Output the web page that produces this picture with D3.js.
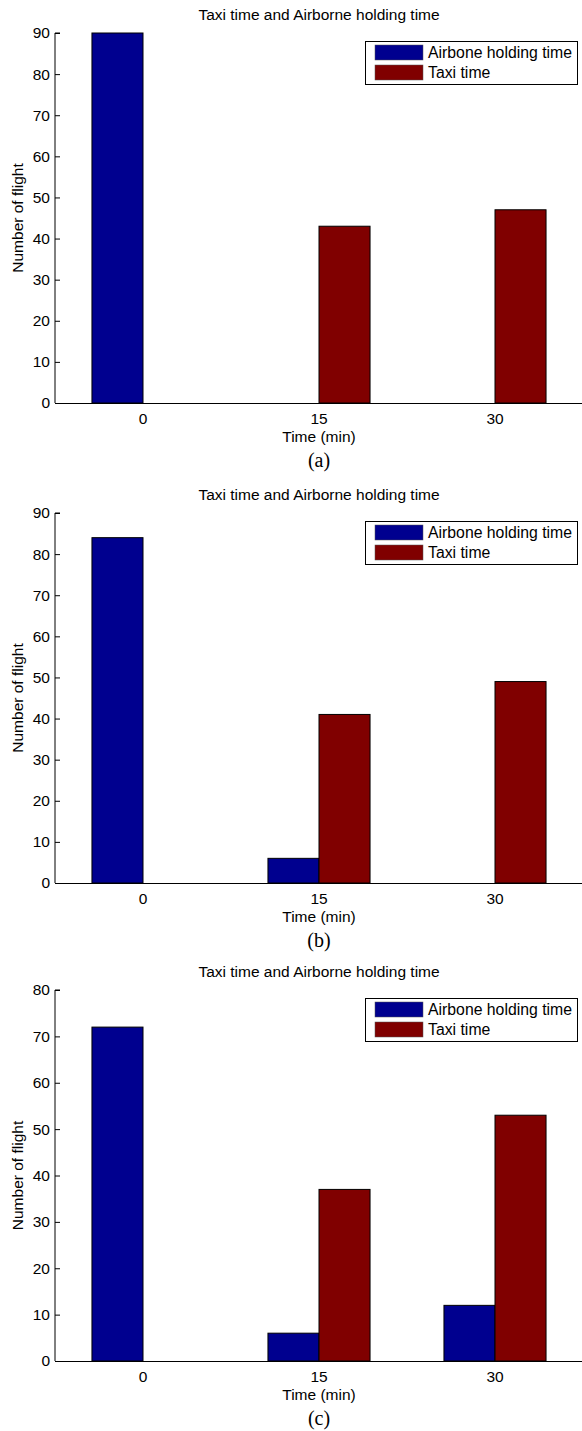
<!DOCTYPE html>
<html>
<head>
<meta charset="utf-8">
<script src="https://cdn.jsdelivr.net/npm/d3@7"></script>
<style>
  html, body { margin: 0; padding: 0; background: #fff; }
  svg { display: block; }
  text { font-family: "Liberation Sans", Arial, Helvetica, sans-serif; fill: #000; }
  .caption { font-family: "Liberation Serif", "Times New Roman", serif; }
</style>
</head>
<body>
<script>
// Time bins on the x axis
const categories = ["0", "15", "30"];
const seriesNames = ["Airbone holding time", "Taxi time"];
const seriesColors = ["#00008f", "#800000"];

// Number of flights per scenario
const airborneA = [90, 0, 0];
const taxiA = [0, 43, 47];
const airborneB = [84, 6, 0];
const taxiB = [0, 41, 49];
const airborneC = [72, 6, 12];
const taxiC = [0, 37, 53];

const yTicksAB = [0, 10, 20, 30, 40, 50, 60, 70, 80, 90];
const yTicksC = [0, 10, 20, 30, 40, 50, 60, 70, 80];

const panels = [
  { top: 33, bottom: 403, yMax: 90, ticks: yTicksAB, series: [airborneA, taxiA], caption: "(a)" },
  { top: 513, bottom: 883, yMax: 90, ticks: yTicksAB, series: [airborneB, taxiB], caption: "(b)" },
  { top: 990, bottom: 1361, yMax: 80, ticks: yTicksC, series: [airborneC, taxiC], caption: "(c)" }
];

const W = 582, H = 1431;
const left = 55, right = 583;
const fs = "15.5px";

const svg = d3.select("body").append("svg")
  .attr("width", W).attr("height", H);

panels.forEach(p => {
  const g = svg.append("g");

  const x = d3.scaleBand().domain(categories).range([left, right]).padding(0);
  const barW = x.bandwidth() * 0.29;
  const x1 = d3.scaleBand().domain(seriesNames).range([-barW, barW]).padding(0);
  const y = d3.scaleLinear().domain([0, p.yMax]).range([p.bottom, p.top]);

  // Title
  g.append("text")
    .attr("x", (left + right) / 2)
    .attr("y", p.top - 13)
    .attr("text-anchor", "middle")
    .style("font-size", fs)
    .text("Taxi time and Airborne holding time");

  // Bars
  seriesNames.forEach((name, si) => {
    g.append("g").selectAll("rect")
      .data(p.series[si].map((v, i) => ({ cat: categories[i], v })))
      .join("rect")
      .filter(d => d.v > 0)
      .attr("x", d => x(d.cat) + x.bandwidth() / 2 + x1(name))
      .attr("y", d => y(d.v))
      .attr("width", x1.bandwidth())
      .attr("height", d => y(0) - y(d.v))
      .attr("fill", seriesColors[si])
      .attr("stroke", "#000")
      .attr("stroke-width", 1);
  });

  // Y axis with inward ticks
  const yAxis = d3.axisRight(y).tickValues(p.ticks).tickSize(5).tickFormat(d3.format("d"));
  const ya = g.append("g").attr("transform", `translate(${left},0)`).call(yAxis);
  ya.select(".domain").attr("d", `M5,${p.top}H0V${p.bottom}`).attr("stroke", "#000");
  ya.selectAll(".tick line").attr("stroke", "#000");
  ya.selectAll(".tick text")
    .attr("x", -5)
    .attr("text-anchor", "end")
    .style("font-size", fs)
    .style("font-family", "'Liberation Sans', Arial, sans-serif");

  // X axis
  const xAxis = d3.axisBottom(x).tickSize(0).tickPadding(0);
  const xa = g.append("g").attr("transform", `translate(0,${p.bottom})`).call(xAxis);
  xa.select(".domain").attr("d", `M${left},0.5H${right + 5}`).attr("stroke", "#000");
  xa.selectAll(".tick text")
    .attr("y", 20.5)
    .attr("dy", 0)
    .style("font-size", fs)
    .style("font-family", "'Liberation Sans', Arial, sans-serif");

  // Axis labels
  g.append("text")
    .attr("x", (left + right) / 2)
    .attr("y", p.bottom + 39)
    .attr("text-anchor", "middle")
    .style("font-size", fs)
    .text("Time (min)");

  g.append("text")
    .attr("transform", `translate(23,${(p.top + p.bottom) / 2}) rotate(-90)`)
    .attr("text-anchor", "middle")
    .style("font-size", fs)
    .text("Number of flight");

  g.append("text")
    .attr("class", "caption")
    .attr("x", (left + right) / 2)
    .attr("y", p.bottom + 64)
    .attr("text-anchor", "middle")
    .style("font-size", "20px")
    .text(p.caption);

  // Legend
  const lg = g.append("g").attr("transform", `translate(365,${p.top + 8})`);
  lg.append("rect")
    .attr("x", 0.5).attr("y", 0.5)
    .attr("width", 212).attr("height", 43)
    .attr("fill", "#fff").attr("stroke", "#000");
  seriesNames.forEach((name, si) => {
    const row = lg.append("g").attr("transform", `translate(10,${4 + si * 20})`);
    row.append("rect")
      .attr("x", 0).attr("y", 0)
      .attr("width", 48).attr("height", 15)
      .attr("fill", seriesColors[si])
      .attr("stroke", "#555").attr("stroke-width", 0.5);
    row.append("text")
      .attr("x", 53).attr("y", 13)
      .style("font-size", "15.8px")
      .text(name);
  });
});
</script>
</body>
</html>
